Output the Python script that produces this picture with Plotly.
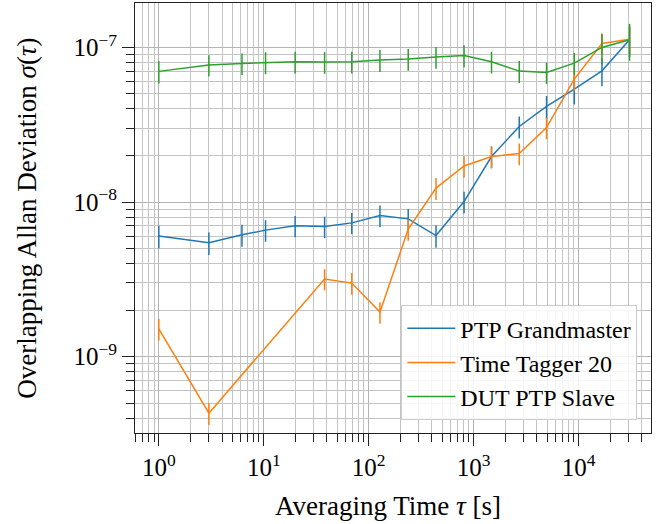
import plotly.graph_objects as go

# ---------------- data ----------------
tau_all = [1, 3, 6.2, 10.4, 19.9, 38, 69, 128, 238, 438, 810, 1480, 2720, 4950, 9100, 16700, 30600]

gm_tau = tau_all
gm_adev = [6.02e-9, 5.45e-9, 6.14e-9, 6.58e-9, 7.02e-9, 6.94e-9, 7.33e-9, 8.18e-9, 7.78e-9,
           6.07e-9, 1.007e-8, 1.97e-8, 3.08e-8, 4.15e-8, 5.38e-8, 7.06e-8, 1.12e-7]
gm_err = [1.0e-9, 0.9e-9, 1.0e-9, 1.05e-9, 1.1e-9, 1.1e-9, 1.15e-9, 1.3e-9, 1.25e-9,
          1.0e-9, 1.6e-9, 3.2e-9, 5.0e-9, 7.0e-9, 1.1e-8, 1.45e-8, 2.5e-8]

tt_tau = [1, 3, 38, 69, 128, 238, 438, 810, 1480, 2720, 4950, 9100, 16700, 30600]
tt_adev = [1.51e-9, 4.31e-10, 3.18e-9, 2.99e-9, 1.94e-9, 6.68e-9, 1.23e-8, 1.71e-8,
           1.97e-8, 2.06e-8, 3.03e-8, 6.24e-8, 1.06e-7, 1.13e-7]
tt_err = [2.4e-10, 0.7e-10, 5.0e-10, 4.8e-10, 3.1e-10, 1.07e-9, 2.0e-9, 2.7e-9,
          3.1e-9, 3.3e-9, 4.8e-9, 1.0e-8, 1.7e-8, 2.3e-8]

dut_tau = tau_all
dut_adev = [7.0e-8, 7.69e-8, 7.88e-8, 8.0e-8, 8.08e-8, 8.05e-8, 8.08e-8, 8.29e-8, 8.41e-8,
            8.67e-8, 8.88e-8, 8.08e-8, 7.03e-8, 6.89e-8, 7.92e-8, 1.0e-7, 1.12e-7]
dut_err = [1.15e-8, 1.2e-8, 1.25e-8, 1.3e-8, 1.3e-8, 1.3e-8, 1.3e-8, 1.35e-8, 1.35e-8,
           1.4e-8, 1.45e-8, 1.3e-8, 1.15e-8, 1.1e-8, 1.3e-8, 2.2e-8, 3.0e-8]

x_tickvals = [1, 10, 100, 1000, 10000]
x_ticktext = ["10<sup>0</sup>", "10<sup>1</sup>", "10<sup>2</sup>", "10<sup>3</sup>", "10<sup>4</sup>"]
y_tickvals = [1e-9, 1e-8, 1e-7]
y_ticktext = ["10<sup>\u22129</sup>", "10<sup>\u22128</sup>", "10<sup>\u22127</sup>"]

x_title = "Averaging Time <i>\u03c4</i> [s]"
y_title = "Overlapping Allan Deviation <i>\u03c3</i>(<i>\u03c4</i>)"

series = [
    ("PTP Grandmaster", gm_tau, gm_adev, gm_err, "#1f77b4"),
    ("Time Tagger 20", tt_tau, tt_adev, tt_err, "#ff7f0e"),
    ("DUT PTP Slave", dut_tau, dut_adev, dut_err, "#2ca02c"),
]

# minor tick positions (grid only)
x_minor = [m * 10 ** e for e in range(-1, 5) for m in range(2, 10)]
y_minor = [m * 10.0 ** e for e in range(-11, -6) for m in range(2, 10)]

fig = go.Figure()
for name, x, y, err, col in series:
    fig.add_trace(go.Scatter(
        x=x, y=y, name=name, mode="lines",
        line=dict(color=col, width=1.5),
        error_y=dict(type="data", array=err, visible=True, color=col, thickness=1.5, width=0),
    ))

font_family = "Liberation Serif"
TICK_FS = 25
TITLE_FS = 27
LEG_FS = 24
axis_common = dict(
    type="log",
    automargin=False,
    showline=True, linecolor="#222222", linewidth=1, mirror=True,
    ticks="outside", ticklen=12, tickwidth=1, tickcolor="#222222",
    showgrid=True, gridcolor="#b4b4b4", gridwidth=1,
    zeroline=False,
    tickfont=dict(family=font_family, size=TICK_FS, color="black"),
)
minor_common = dict(tickmode="array", ticks="outside", ticklen=8, tickwidth=1,
                    tickcolor="#222222", showgrid=True, gridcolor="#c4c4c4", gridwidth=1)

fig.update_xaxes(
    **axis_common,
    range=[-0.227, 4.69],
    tickmode="array", tickvals=x_tickvals, ticktext=x_ticktext,
    minor=dict(tickvals=x_minor, **minor_common),
)
fig.update_yaxes(
    **axis_common,
    range=[-9.494, -6.7126],
    tickmode="array", tickvals=y_tickvals, ticktext=y_ticktext,
    minor=dict(tickvals=y_minor, **minor_common),
)

fig.add_annotation(text=x_title, xref="paper", yref="paper", x=0.49, y=-0.17,
                   xanchor="center", yanchor="middle", showarrow=False,
                   font=dict(family=font_family, size=TITLE_FS, color="black"))
fig.add_annotation(text=y_title, xref="paper", yref="paper", x=-0.21, y=0.5,
                   xanchor="center", yanchor="middle", showarrow=False, textangle=-90,
                   font=dict(family=font_family, size=TITLE_FS, color="black"))

fig.update_layout(
    width=671, height=524,
    margin=dict(l=135, r=20, t=3, b=91),
    paper_bgcolor="white", plot_bgcolor="white",
    font=dict(family=font_family, size=LEG_FS, color="black"),
    legend=dict(
        x=0.9735, y=0.03, xanchor="right", yanchor="bottom",
        bgcolor="rgba(255,255,255,0.85)", bordercolor="#cccccc", borderwidth=1,
        font=dict(family=font_family, size=LEG_FS, color="black"),
        tracegroupgap=0, itemwidth=48, entrywidth=240,
    ),
    showlegend=True,
)

fig.write_html("out.html", config={"displayModeBar": False},
               post_script="document.body.style.margin='0px';")
